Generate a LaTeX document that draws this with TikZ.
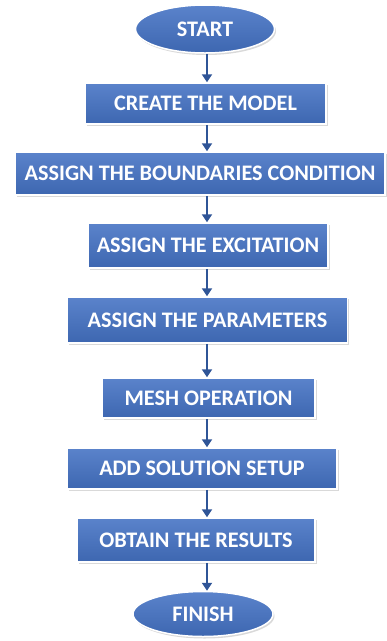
\documentclass[tikz,border=0pt]{standalone}
\usepackage{fontspec}
\setmainfont{Carlito}
\usetikzlibrary{shapes.geometric,arrows.meta,shadows}
\definecolor{boxblue}{HTML}{4472C4}
\definecolor{arrowblue}{HTML}{2F5597}
\tikzset{
	stepbox/.style={rectangle, draw=white, line width=1.5pt, top color=boxblue!88!white, bottom color=boxblue!90!black,
		drop shadow={shadow xshift=1.5pt, shadow yshift=-2pt, opacity=0.3}, text=white, inner sep=0pt,
		font=\fontsize{22.2}{25}\selectfont\bfseries},
	endpoint/.style={stepbox, ellipse},
	flow/.style={arrowblue, line width=2.6pt, -{Triangle[width=10pt,length=8pt]}}
}
\begin{document}
\begin{tikzpicture}[x=1pt, y=-1pt]
			\useasboundingbox (0,0) rectangle (387,641);
			\coordinate (axis) at (207,0);
			\node[endpoint, minimum width=139pt, minimum height=48pt] (start) at (205,29) {START};
			\node[stepbox, minimum width=241pt, minimum height=41pt] (model) at (205.5,103.5) {CREATE THE MODEL};
			\node[stepbox, minimum width=370pt, minimum height=43pt] (bound) at (200,173.5) {ASSIGN THE BOUNDARIES CONDITION};
			\node[stepbox, minimum width=240pt, minimum height=45pt] (excit) at (208,245.5) {ASSIGN THE EXCITATION};
			\node[stepbox, minimum width=280pt, minimum height=46pt] (param) at (207.5,320) {ASSIGN THE PARAMETERS};
			\node[stepbox, minimum width=213pt, minimum height=40pt] (mesh) at (208.5,398) {MESH OPERATION};
			\node[stepbox, minimum width=270pt, minimum height=41pt] (setup) at (202,468.5) {ADD SOLUTION SETUP};
			\node[stepbox, minimum width=238pt, minimum height=44pt] (result) at (196,540) {OBTAIN THE RESULTS};
			\node[endpoint, minimum width=140pt, minimum height=45pt] (finish) at (203,614) {FINISH};
			% arrows down the middle
			\foreach \a/\b in {start/model, model/bound, bound/excit, excit/param, param/mesh, mesh/setup, setup/result, result/finish}
				\draw[flow] (\a.south -| axis) -- (\b.north -| axis);
		\end{tikzpicture}
\end{document}
